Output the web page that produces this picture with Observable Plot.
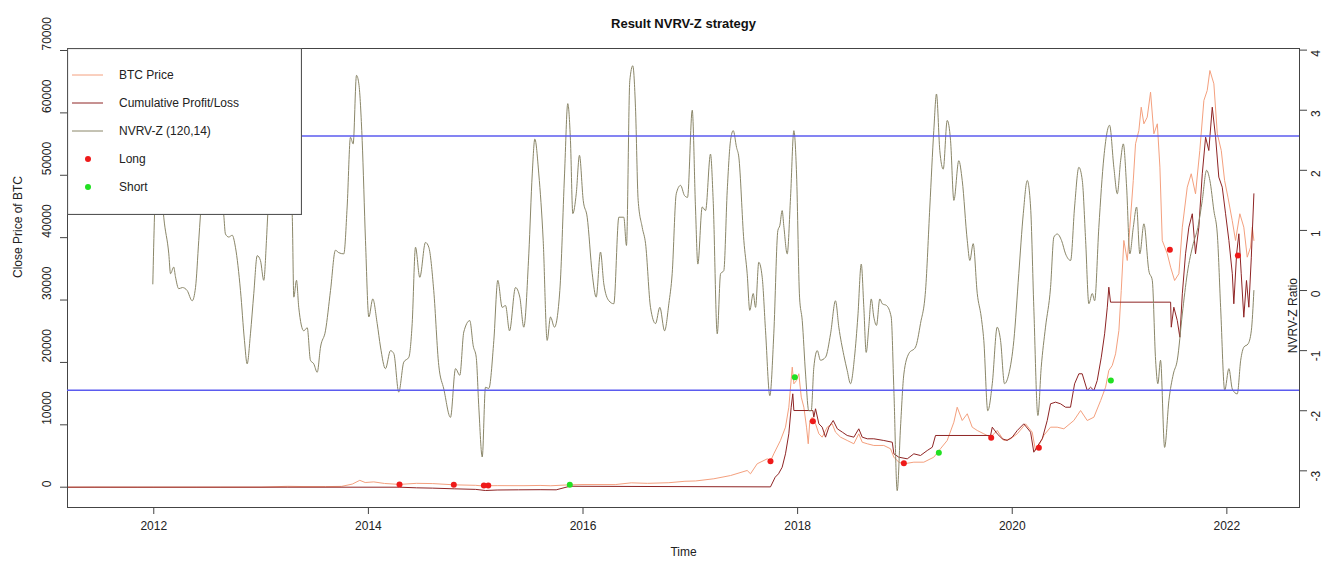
<!DOCTYPE html>
<html>
<head>
<meta charset="utf-8">
<script src="https://cdn.jsdelivr.net/npm/d3@7"></script>
<script src="https://cdn.jsdelivr.net/npm/@observablehq/plot@0.6"></script>
<style>
  body { margin: 0; background: #fff; font-family: "Liberation Sans", Arial, sans-serif; }
  #chart { position: relative; width: 1327px; height: 561px; overflow: hidden; }
  #chart > svg.panel { position: absolute; left: 0; top: 0; }
  #chart > svg#legend { position: absolute; left: 67px; top: 48px; }
</style>
</head>
<body>
<div id="chart"></div>
<script>
// ---- BTC close price (decimal year, USD) ----
const priceYear = [2011.196, 2011.45, 2011.6, 2011.85, 2012.0, 2012.4, 2012.62, 2013.0, 2013.25, 2013.4, 2013.6, 2013.75, 2013.85, 2013.92, 2013.97, 2014.05, 2014.15, 2014.29, 2014.45, 2014.6, 2014.8, 2015.0, 2015.05, 2015.2, 2015.45, 2015.6, 2015.7, 2015.86, 2016.0, 2016.3, 2016.45, 2016.6, 2016.8, 2016.95, 2017.05, 2017.219, 2017.375, 2017.530, 2017.561, 2017.623, 2017.717, 2017.747, 2017.778, 2017.840, 2017.887, 2017.918, 2017.950, 2017.965, 2017.990, 2018.011, 2018.034, 2018.058, 2018.083, 2018.099, 2018.114, 2018.136, 2018.167, 2018.198, 2018.229, 2018.276, 2018.322, 2018.353, 2018.400, 2018.462, 2018.524, 2018.570, 2018.602, 2018.649, 2018.710, 2018.803, 2018.866, 2018.897, 2018.943, 2018.990, 2019.083, 2019.176, 2019.269, 2019.331, 2019.394, 2019.456, 2019.487, 2019.534, 2019.581, 2019.627, 2019.674, 2019.735, 2019.798, 2019.860, 2019.922, 2019.984, 2020.047, 2020.124, 2020.186, 2020.217, 2020.248, 2020.294, 2020.357, 2020.419, 2020.481, 2020.574, 2020.637, 2020.699, 2020.761, 2020.824, 2020.870, 2020.900, 2020.932, 2020.963, 2020.994, 2021.016, 2021.040, 2021.072, 2021.096, 2021.128, 2021.149, 2021.180, 2021.202, 2021.227, 2021.258, 2021.289, 2021.320, 2021.352, 2021.376, 2021.398, 2021.445, 2021.476, 2021.513, 2021.553, 2021.585, 2021.631, 2021.668, 2021.708, 2021.748, 2021.786, 2021.817, 2021.842, 2021.879, 2021.911, 2021.948, 2021.979, 2022.010, 2022.050, 2022.081, 2022.121, 2022.158, 2022.190, 2022.221, 2022.237, 2022.252];
const priceValue = [1, 20, 12, 3, 5, 5, 12, 13, 140, 100, 95, 130, 500, 1100, 750, 850, 600, 450, 620, 580, 380, 300, 220, 250, 240, 280, 230, 370, 430, 420, 700, 620, 720, 950, 1000, 1350, 1870, 2680, 2150, 3750, 4550, 4170, 5350, 7490, 9620, 12820, 19240, 16570, 17100, 18180, 14430, 12820, 9620, 6960, 10690, 11220, 10160, 8560, 8020, 9620, 10160, 8820, 8020, 7490, 6960, 8560, 7210, 6960, 6690, 6690, 6160, 4810, 4010, 3750, 4010, 4010, 4810, 6160, 7490, 10420, 12820, 10690, 11770, 9620, 9090, 8560, 8020, 9090, 7490, 7760, 8560, 10160, 8820, 5880, 6690, 8290, 9620, 9620, 9360, 10690, 12290, 10690, 11220, 13900, 16030, 18710, 19510, 21380, 25120, 31530, 39550, 36340, 41680, 49160, 55050, 57180, 60910, 58250, 59310, 63320, 56650, 58250, 51300, 39550, 37410, 35270, 33130, 34210, 41680, 48090, 50240, 47030, 53970, 61990, 63590, 66790, 64660, 56650, 53970, 49160, 46490, 42750, 39550, 43830, 41680, 36870, 38470, 41680, 39550];

// ---- Cumulative profit/loss of the strategy (USD) ----
const pnlYear = [2011.196, 2013.25, 2014.29, 2014.45, 2014.6, 2014.8, 2015.0, 2015.09, 2015.2, 2015.4, 2015.6, 2015.75, 2015.877, 2017.747, 2017.791, 2017.822, 2017.856, 2017.887, 2017.918, 2017.940, 2017.955, 2017.965, 2018.142, 2018.151, 2018.167, 2018.198, 2018.229, 2018.260, 2018.291, 2018.332, 2018.370, 2018.417, 2018.462, 2018.524, 2018.570, 2018.602, 2018.649, 2018.710, 2018.803, 2018.882, 2018.897, 2018.943, 2019.022, 2019.083, 2019.145, 2019.208, 2019.255, 2019.285, 2019.798, 2019.814, 2019.860, 2019.907, 2019.953, 2020.000, 2020.047, 2020.108, 2020.171, 2020.201, 2020.239, 2020.280, 2020.326, 2020.357, 2020.404, 2020.450, 2020.497, 2020.543, 2020.581, 2020.621, 2020.652, 2020.699, 2020.730, 2020.761, 2020.792, 2020.830, 2020.861, 2020.886, 2020.900, 2020.916, 2021.476, 2021.482, 2021.506, 2021.538, 2021.562, 2021.585, 2021.615, 2021.646, 2021.678, 2021.708, 2021.739, 2021.771, 2021.802, 2021.832, 2021.864, 2021.895, 2021.925, 2021.957, 2021.988, 2022.019, 2022.051, 2022.065, 2022.091, 2022.112, 2022.134, 2022.158, 2022.183, 2022.205, 2022.228, 2022.252];
const pnlValue = [0, 0, 0, -100, -150, -260, -350, -530, -450, -420, -400, -420, 150, 50, 1600, 2150, 3200, 5350, 8560, 12820, 14970, 12290, 12290, 11220, 12570, 10160, 9620, 8020, 9620, 10690, 9360, 8820, 8290, 8020, 9360, 8020, 7760, 7760, 7490, 7210, 5350, 4810, 4550, 5350, 5080, 5880, 6410, 8290, 8290, 9620, 8560, 7760, 7490, 8020, 9090, 10160, 8820, 5610, 6690, 7760, 10690, 13370, 13630, 13370, 12820, 12820, 16570, 18180, 18180, 15500, 16030, 15500, 17100, 20840, 24590, 28850, 32060, 29660, 29660, 25650, 28850, 26720, 24050, 31000, 37410, 41680, 43830, 37410, 41680, 50240, 56110, 53970, 60910, 56110, 49700, 48090, 43830, 39550, 34210, 29400, 37410, 40620, 34210, 27250, 33130, 28850, 36870, 47030];

// ---- NVRV-Z (120,14) ratio ----
const nvrvYear = [2011.991, 2012.007, 2012.034, 2012.062, 2012.093, 2012.140, 2012.156, 2012.186, 2012.202, 2012.233, 2012.267, 2012.311, 2012.358, 2012.389, 2012.419, 2012.435, 2012.482, 2012.547, 2012.603, 2012.652, 2012.668, 2012.699, 2012.731, 2012.761, 2012.808, 2012.845, 2012.870, 2012.901, 2012.932, 2012.964, 2012.994, 2013.025, 2013.050, 2013.062, 2013.106, 2013.162, 2013.227, 2013.290, 2013.305, 2013.330, 2013.351, 2013.398, 2013.430, 2013.460, 2013.491, 2013.523, 2013.554, 2013.600, 2013.647, 2013.693, 2013.724, 2013.771, 2013.802, 2013.833, 2013.858, 2013.889, 2013.911, 2013.942, 2013.973, 2014.004, 2014.041, 2014.082, 2014.113, 2014.159, 2014.206, 2014.237, 2014.283, 2014.330, 2014.377, 2014.408, 2014.439, 2014.479, 2014.532, 2014.563, 2014.609, 2014.656, 2014.703, 2014.765, 2014.812, 2014.852, 2014.889, 2014.945, 2014.977, 2015.005, 2015.029, 2015.061, 2015.091, 2015.122, 2015.169, 2015.206, 2015.247, 2015.278, 2015.315, 2015.371, 2015.411, 2015.448, 2015.495, 2015.527, 2015.551, 2015.588, 2015.629, 2015.666, 2015.697, 2015.734, 2015.784, 2015.828, 2015.858, 2015.883, 2015.905, 2015.937, 2015.967, 2016.002, 2016.039, 2016.086, 2016.123, 2016.163, 2016.194, 2016.241, 2016.287, 2016.334, 2016.380, 2016.405, 2016.436, 2016.464, 2016.489, 2016.514, 2016.552, 2016.583, 2016.629, 2016.676, 2016.716, 2016.760, 2016.800, 2016.831, 2016.869, 2016.909, 2016.946, 2016.974, 2017.018, 2017.048, 2017.070, 2017.111, 2017.142, 2017.188, 2017.213, 2017.251, 2017.282, 2017.312, 2017.344, 2017.375, 2017.400, 2017.431, 2017.452, 2017.499, 2017.530, 2017.554, 2017.586, 2017.608, 2017.638, 2017.670, 2017.701, 2017.741, 2017.778, 2017.816, 2017.834, 2017.856, 2017.871, 2017.903, 2017.934, 2017.965, 2017.990, 2018.018, 2018.043, 2018.074, 2018.104, 2018.127, 2018.151, 2018.183, 2018.213, 2018.260, 2018.307, 2018.353, 2018.384, 2018.431, 2018.462, 2018.493, 2018.530, 2018.561, 2018.593, 2018.617, 2018.639, 2018.663, 2018.686, 2018.710, 2018.735, 2018.766, 2018.789, 2018.829, 2018.872, 2018.897, 2018.928, 2018.959, 2018.990, 2019.036, 2019.099, 2019.145, 2019.192, 2019.232, 2019.269, 2019.294, 2019.325, 2019.357, 2019.394, 2019.425, 2019.456, 2019.502, 2019.534, 2019.581, 2019.605, 2019.636, 2019.674, 2019.711, 2019.735, 2019.772, 2019.814, 2019.860, 2019.891, 2019.928, 2019.968, 2020.015, 2020.061, 2020.103, 2020.140, 2020.171, 2020.201, 2020.239, 2020.270, 2020.310, 2020.357, 2020.388, 2020.420, 2020.460, 2020.497, 2020.544, 2020.581, 2020.621, 2020.653, 2020.684, 2020.714, 2020.746, 2020.768, 2020.807, 2020.854, 2020.907, 2020.947, 2020.979, 2021.010, 2021.035, 2021.066, 2021.096, 2021.128, 2021.159, 2021.189, 2021.227, 2021.273, 2021.305, 2021.336, 2021.357, 2021.382, 2021.420, 2021.460, 2021.501, 2021.538, 2021.585, 2021.631, 2021.687, 2021.730, 2021.771, 2021.811, 2021.842, 2021.879, 2021.911, 2021.942, 2021.980, 2022.019, 2022.051, 2022.097, 2022.129, 2022.159, 2022.197, 2022.228, 2022.252];
const nvrvValue = [0.11, 1.26, 2.33, 1.91, 1.22, 0.61, 0.28, 0.39, 0.23, 0.03, 0.05, 0.00, -0.17, 0.05, 0.83, 1.26, 2.33, 2.83, 2.00, 1.26, 0.94, 0.89, 0.92, 0.72, 0.00, -0.83, -1.22, -0.72, -0.05, 0.58, 0.50, 0.17, 0.83, 1.26, 2.16, 2.83, 2.33, 1.26, -0.11, 0.17, -0.28, -0.67, -0.62, -1.16, -1.22, -1.36, -0.94, -0.67, 0.00, 0.67, 0.63, 0.61, 1.39, 2.55, 2.44, 3.58, 3.44, 2.50, 0.83, -0.44, -0.14, -0.55, -0.94, -1.30, -1.00, -1.05, -1.69, -1.19, -1.11, -0.55, 0.72, 0.22, 0.80, 0.72, 0.00, -1.25, -1.64, -2.11, -1.30, -1.41, -0.69, -0.50, -0.92, -1.11, -1.94, -2.77, -1.61, -1.63, -0.83, 0.17, -0.28, -0.25, -0.67, 0.05, -0.11, -0.61, 0.61, 1.94, 2.52, 1.94, 0.83, -0.83, -0.44, -0.61, 0.00, 1.94, 3.11, 2.50, 1.28, 1.61, 2.25, 1.50, 1.22, 0.28, -0.11, 0.64, 0.11, -0.17, -0.22, 1.22, 1.22, 0.75, 3.49, 3.74, 3.05, 1.50, 1.05, 0.78, -0.28, -0.55, -0.28, -0.67, -0.22, 0.28, 1.61, 1.75, 1.58, 1.55, 3.00, 1.39, 0.44, 1.39, 1.33, 2.27, 1.50, -0.72, 0.28, 0.33, 1.66, 2.50, 2.66, 2.38, 2.22, 0.83, 0.28, -0.33, -0.05, -0.28, 0.47, 0.22, -0.67, -1.75, -0.72, 1.00, 1.08, 1.33, 1.08, 0.61, 1.55, 2.66, 1.94, -0.11, -0.50, -1.39, -2.00, -2.00, -1.28, -1.00, -1.16, -1.11, -0.72, -0.17, -0.61, -1.08, -1.33, -1.55, -1.11, -0.44, 0.44, -0.28, -1.03, -0.61, -0.14, -0.44, -0.58, -0.14, -0.22, -0.25, -0.44, -1.66, -3.33, -2.27, -1.39, -1.05, -0.94, -0.55, 0.00, 1.39, 2.66, 3.27, 2.33, 2.02, 2.83, 2.50, 1.50, 2.16, 1.83, 0.83, 0.50, 0.78, -0.05, -0.44, -0.83, -2.00, -1.55, -0.61, -0.83, -1.55, -1.39, -0.83, 0.28, 1.28, 1.83, 1.39, -0.28, -2.08, -1.28, -0.61, 0.05, 0.89, 0.94, 0.83, 0.61, 0.50, 1.39, 2.05, 1.83, 0.83, -0.22, -0.05, -0.17, 1.05, 2.22, 2.75, 2.05, 1.61, 2.16, 2.44, 1.72, 0.61, 1.05, 1.39, 0.61, 1.11, 0.33, 0.17, -1.16, -1.55, -1.16, -2.61, -1.83, -1.39, -1.16, -0.39, 0.28, 0.78, 1.05, 1.50, 2.00, 1.83, 1.33, 0.94, -0.28, -1.66, -1.30, -1.64, -1.72, -1.16, -0.94, -0.89, -0.67, 0.00];

// ---- Trade signals ----
const longYear = [2014.290, 2014.796, 2015.076, 2015.117, 2017.747, 2018.142, 2018.990, 2019.804, 2020.248, 2021.469, 2022.103];
const longValue = [430, 380, 270, 270, 4170, 10580, 3850, 7920, 6320, 38060, 37140];
const shortYear = [2015.877, 2017.974, 2019.316, 2020.919];
const shortValue = [380, 17630, 5510, 17100];

// ---- Entry / exit thresholds on the NVRV-Z ratio ----
const thresholds = [2.57, -1.66];

// ---- Axis ticks ----
const yearTicks = [2012, 2014, 2016, 2018, 2020, 2022];
const priceTicks = [0, 10000, 20000, 30000, 40000, 50000, 60000, 70000];
const ratioTicks = [-3, -2, -1, 0, 1, 2, 3, 4];

// ---- Colours ----
const colPrice = "#f4a07e";
const colPnl = "#8e2424";
const colNvrv = "#8a8668";
const colBand = "#5b5bef";
const colLong = "#ee1a1a";
const colShort = "#22e022";
const ink = "#222";

const W = 1327, H = 561;
const frame = { marginLeft: 67, marginRight: 28, marginTop: 48, marginBottom: 54 };
const xDomain = [2011.196, 2022.677];
const font = { background: "transparent", fontFamily: "'Liberation Sans', Arial, sans-serif", fontSize: "12px", color: ink, overflow: "visible" };

const zip = (xs, ys) => xs.map((t, i) => ({ t, v: ys[i] }));
const priceData = zip(priceYear, priceValue);
const pnlData = zip(pnlYear, pnlValue);
const nvrvData = zip(nvrvYear, nvrvValue);
const longData = zip(longYear, longValue);
const shortData = zip(shortYear, shortValue);

// Left panel: price, cumulative P/L and the trade markers on the USD scale
const pricePlot = Plot.plot({
  width: W, height: H, ...frame,
  x: { domain: xDomain },
  y: { domain: [-3254, 70320] },
  style: font,
  marks: [
    Plot.axisX({ ticks: yearTicks, tickFormat: d => String(d), tickSize: 7, tickPadding: 7, label: null, stroke: "#444", fontSize: 12 }),
    Plot.axisY({ ticks: priceTicks, tickSize: 7, tickFormat: () => "", label: null, stroke: "#444" }),
    Plot.text(priceTicks, { y: d => d, text: d => String(d), frameAnchor: "left", dx: -20, rotate: -90, fill: ink, fontSize: 12 }),
    Plot.line(priceData, { x: "t", y: "v", stroke: colPrice, strokeWidth: 1 }),
    Plot.line(pnlData, { x: "t", y: "v", stroke: colPnl, strokeWidth: 1 }),
    Plot.dot(longData, { x: "t", y: "v", r: 3, fill: colLong, stroke: "none" }),
    Plot.dot(shortData, { x: "t", y: "v", r: 3, fill: colShort, stroke: "none" }),
    Plot.frame({ stroke: "#444" }),
    Plot.text(["Close Price of BTC"], { frameAnchor: "left", dx: -49, rotate: -90, fill: ink, fontSize: 12 }),
    Plot.text(["Time"], { frameAnchor: "bottom", dy: 48, fill: ink, fontSize: 12 }),
    Plot.text(["Result NVRV-Z strategy"], { frameAnchor: "top", dy: -30, fill: "#111", fontSize: 13, fontWeight: "bold" })
  ]
});

// Right panel: the NVRV-Z ratio on its own scale
const ratioPlot = Plot.plot({
  width: W, height: H, ...frame,
  x: { domain: xDomain, axis: null },
  y: { domain: [-3.61, 4.027], axis: null },
  style: font,
  marks: [
    Plot.line(nvrvData, { x: "t", y: "v", stroke: colNvrv, strokeWidth: 1, curve: "monotone-x" }),
    Plot.ruleY(thresholds, { stroke: colBand, strokeWidth: 1.5 }),
    Plot.axisY({ anchor: "right", ticks: ratioTicks, tickSize: 7, tickFormat: () => "", label: null, stroke: "#444" }),
    Plot.text(ratioTicks, { y: d => d, text: d => String(d), frameAnchor: "right", dx: 17, rotate: -90, fill: ink, fontSize: 12 }),
    Plot.text(["NVRV-Z Ratio"], { frameAnchor: "right", dx: -6, rotate: -90, fill: ink, fontSize: 12 })
  ]
});

const chart = document.getElementById("chart");
pricePlot.classList.add("panel");
ratioPlot.classList.add("panel");
chart.appendChild(pricePlot);
chart.appendChild(ratioPlot);

// Legend box in the top-left corner of the panel
const legendItems = [
  { label: "BTC Price", kind: "line", color: colPrice },
  { label: "Cumulative Profit/Loss", kind: "line", color: colPnl },
  { label: "NVRV-Z (120,14)", kind: "line", color: colNvrv },
  { label: "Long", kind: "dot", color: colLong },
  { label: "Short", kind: "dot", color: colShort }
];
const lg = d3.create("svg").attr("id", "legend").attr("width", 235).attr("height", 167)
  .style("font-family", "'Liberation Sans', Arial, sans-serif").style("font-size", "12px");
lg.append("rect").attr("x", 0.5).attr("y", 0.5).attr("width", 234).attr("height", 166)
  .attr("fill", "#fff").attr("stroke", "#555").attr("stroke-width", 1.2);
const row = lg.selectAll("g").data(legendItems).join("g")
  .attr("transform", (d, i) => `translate(0,${27 + i * 28})`);
row.filter(d => d.kind === "line").append("line")
  .attr("x1", 5).attr("x2", 36).attr("stroke", d => d.color).attr("stroke-width", 1);
row.filter(d => d.kind === "dot").append("circle")
  .attr("cx", 21).attr("r", 3).attr("fill", d => d.color);
row.append("text").attr("x", 52).attr("dy", "0.35em").attr("fill", ink).text(d => d.label);
chart.appendChild(lg.node());
</script>
</body>
</html>
